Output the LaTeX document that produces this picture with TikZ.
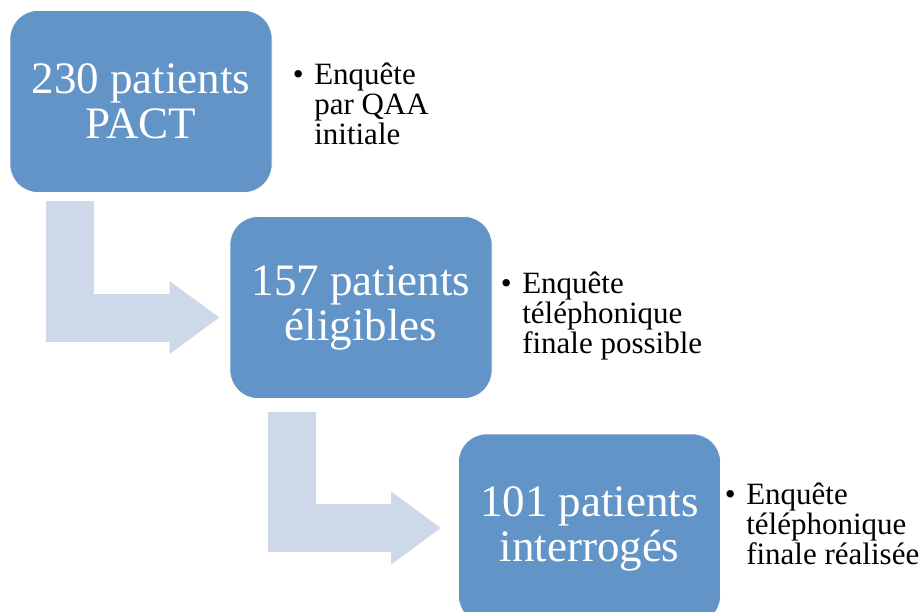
\documentclass[tikz,border=0pt]{standalone}
\usepackage{fontspec}
\setmainfont{Liberation Serif}
\usetikzlibrary{arrows.meta}
\definecolor{boxblue}{RGB}{99,148,199}
\definecolor{flowgray}{RGB}{205,216,232}
\tikzset{
  box/.style={draw=white, line width=0.5pt, fill=boxblue, rounded corners=21pt,
    minimum width=196.5pt, minimum height=136.5pt, inner sep=0pt,
    text=white, align=center, font=\fontsize{33.75}{33.75}\selectfont},
  note/.style={inner sep=0pt, anchor=base west, align=left,
    font=\fontsize{23.25}{22.5}\selectfont},
  flow/.style={draw=flowgray, line width=36pt,
    -{Triangle[width=52pt, length=37.5pt]}}
}
\newcommand{\bul}{\llap{\textbullet\hspace{8pt}}}

\begin{document}
\begin{tikzpicture}[x=0.75pt, y=-0.75pt]
\clip (0,0) rectangle (921,611);
\node[box](b1) at (141,101.5){230 patients\\PACT};
\node[box](b2) at (361,307.5){157 patients\\éligibles};
\node[box, minimum height=142.5pt](b3) at (589.5,529){101 patients\\interrogés};
\node[note](t1) at (314,144){\bul Enquête\\par QAA\\initiale};
\node[note](t2) at (522,353){\bul Enquête\\téléphonique\\finale possible};
\node[note](t3) at (746,564){\bul Enquête\\téléphonique\\finale réalisée};
% bent arrows
\coordinate (s1) at (70,201);
\coordinate (s2) at (291.5,412);
\draw[flow] (s1) |- ([xshift=-7.5pt,yshift=-7.5pt]b2.west);
\draw[flow] (s2) |- ([xshift=-12.75pt,yshift=0.75pt]b3.west);
\end{tikzpicture}
\end{document}
